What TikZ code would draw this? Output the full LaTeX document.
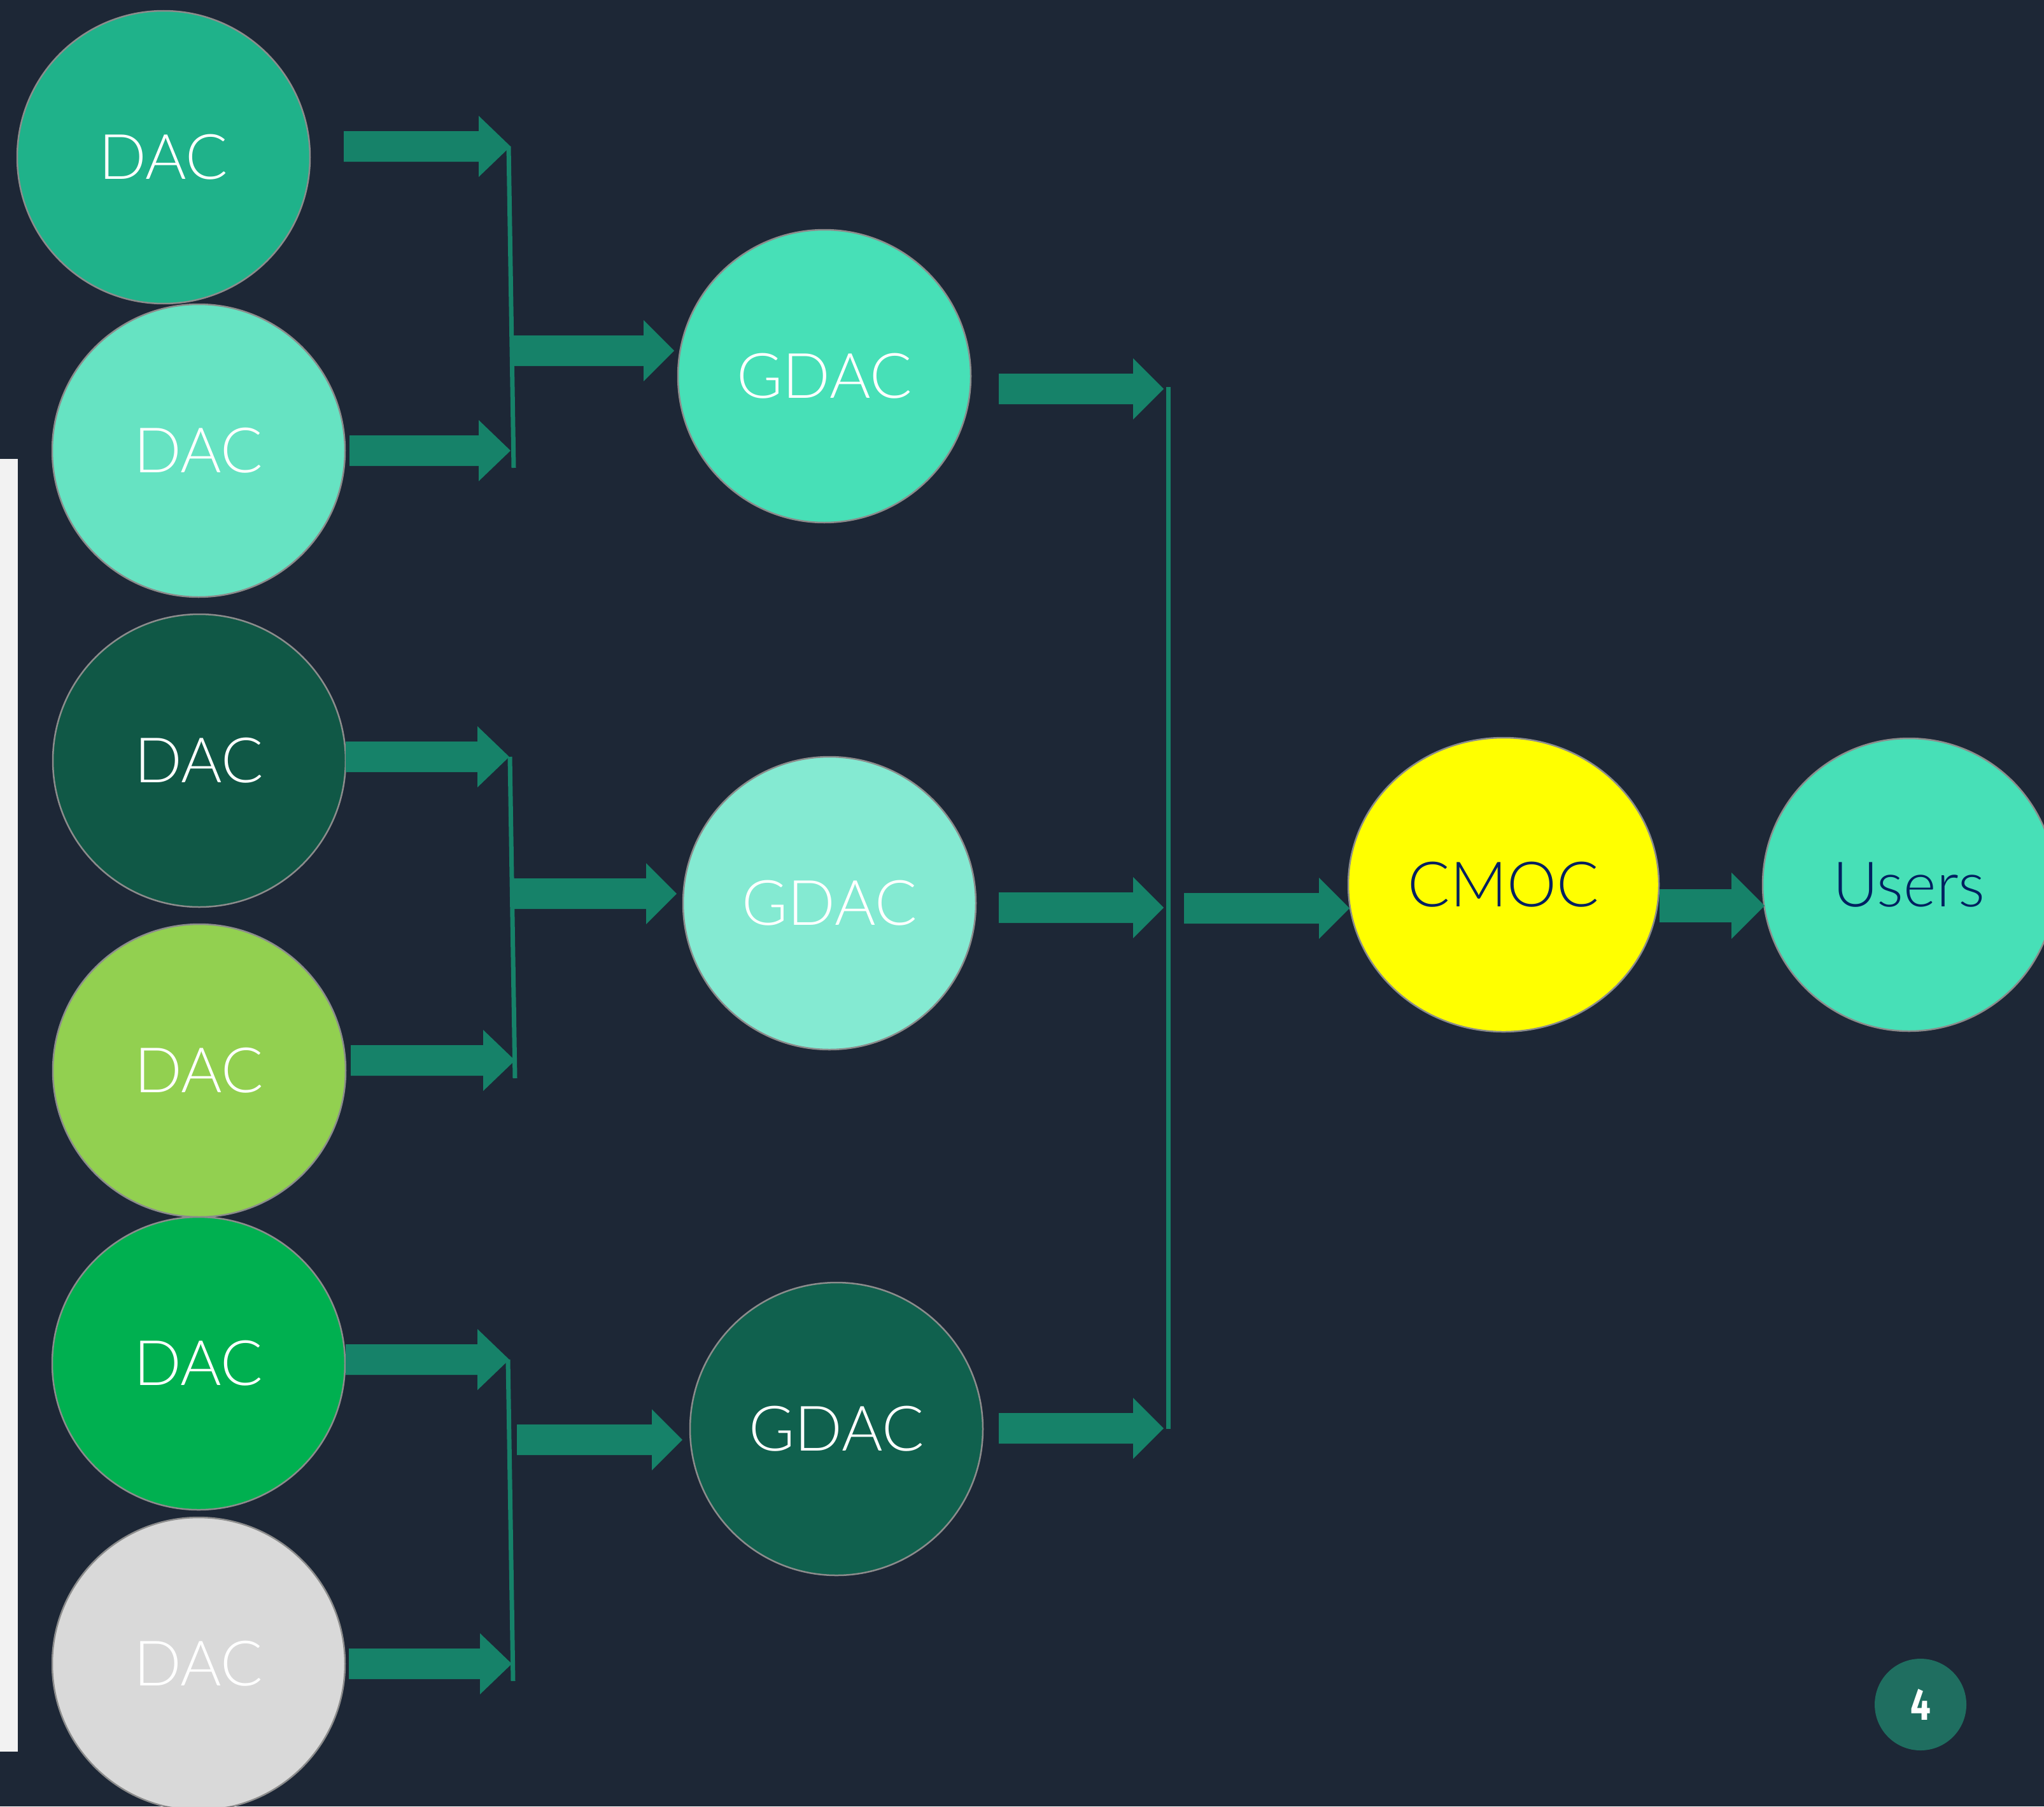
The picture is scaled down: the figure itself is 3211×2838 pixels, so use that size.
\documentclass[tikz,border=0pt]{standalone}
\usepackage{fontspec}
\setmainfont{Lato}[UprightFont=* Light]
\newfontfamily\numfont{Fira Sans}
\usepackage{graphicx}
\usetikzlibrary{calc,shapes.geometric}
\definecolor{bg}{HTML}{1D2736}
\definecolor{barc}{HTML}{F2F2F2}
\definecolor{arrowc}{HTML}{168269}
\definecolor{edgec}{HTML}{8C8C8C}
\definecolor{navy}{HTML}{002060}
\definecolor{badge}{HTML}{1F6E60}
\definecolor{dacA}{HTML}{1FB28A}
\definecolor{dacB}{HTML}{66E3C2}
\definecolor{dacC}{HTML}{105846}
\definecolor{dacD}{HTML}{92D050}
\definecolor{dacE}{HTML}{00B050}
\definecolor{dacF}{HTML}{D9D9D9}
\definecolor{gdacA}{HTML}{47E0B7}
\definecolor{gdacB}{HTML}{84EAD2}
\definecolor{gdacC}{HTML}{10614E}
\definecolor{cmocc}{HTML}{FFFF00}
% start, tip, body half height, head half height, head length
\newcommand\blockarr[5]{%
  \fill[arrowc] ($(#1)+(0,-#3)$) -- ($(#2)+(-#5,-#3)$) -- ($(#2)+(-#5,-#4)$) -- (#2)
    -- ($(#2)+(-#5,#4)$) -- ($(#2)+(-#5,#3)$) -- ($(#1)+(0,#3)$) -- cycle;}
\begin{document}
\begin{tikzpicture}[x=0.1mm,y=-0.1mm,
  circ/.style={circle, draw=edgec, line width=0.25mm, minimum size=46mm, inner sep=0pt,
    font=\fontsize{28}{33}\selectfont, text=white},
  bracket/.style={draw=arrowc, line width=0.7mm}]
\fill[bg] (0,0) rectangle (3211,2838);
\useasboundingbox (0,0) rectangle (3211,2838);
\fill[barc] (0,721) rectangle (28,2752);

% nodes
\node[circ, fill=dacA] (dac1) at (257,247) {DAC};
\node[circ, fill=dacB] (dac2) at (312,708) {DAC};
\node[circ, fill=dacC] (dac3) at (313,1195) {DAC};
\node[circ, fill=dacD] (dac4) at (313,1682) {DAC};
\node[circ, fill=dacE] (dac5) at (312,2142) {DAC};
\node[circ, fill=dacF] (dac6) at (312,2614) {DAC};
\node[circ, fill=gdacA] (gdac1) at (1295,591) {GDAC};
\node[circ, fill=gdacB] (gdac2) at (1303,1419) {GDAC};
\node[circ, fill=gdacC] (gdac3) at (1314,2245) {GDAC};
\node[circ, ellipse, minimum width=48.8mm, minimum height=46.2mm, fill=cmocc, text=navy] (cmoc) at (2362,1390) {CMOC};
\node[circ, fill=gdacA, text=navy] (users) at (2999,1390) {Users};
\node[circle, fill=badge, minimum size=14.4mm, inner sep=0pt, text=white,
  font=\numfont\bfseries\fontsize{20}{24}\selectfont] (page) at (3017,2678) {\scalebox{0.8}[1]{4}};

% coordinates of arrow ends
\coordinate (s1) at (540,230);   \coordinate (t1) at (802,230);
\coordinate (s2) at (549,708);   \coordinate (t2) at (802,708);
\coordinate (b1a) at (799,230);  \coordinate (b1b) at (807,735);
\coordinate (s3) at (807,551);   \coordinate (t3) at (1059,551);

\coordinate (s4) at (543,1189);  \coordinate (t4) at (800,1189);
\coordinate (s5) at (551,1666);  \coordinate (t5) at (809,1666);
\coordinate (b2a) at (801,1189); \coordinate (b2b) at (809,1694);
\coordinate (s6) at (805,1404);  \coordinate (t6) at (1063,1404);

\coordinate (s7) at (543,2136);  \coordinate (t7) at (800,2136);
\coordinate (s8) at (548,2614);  \coordinate (t8) at (804,2614);
\coordinate (b3a) at (798,2136); \coordinate (b3b) at (806,2641);
\coordinate (s9) at (812,2262);  \coordinate (t9) at (1072,2262);

\coordinate (s10) at (1569,611);  \coordinate (t10) at (1828,611);
\coordinate (s11) at (1569,1426); \coordinate (t11) at (1828,1426);
\coordinate (s12) at (1569,2244); \coordinate (t12) at (1828,2244);
\coordinate (b4a) at (1835,608);  \coordinate (b4b) at (1835,2245);
\coordinate (s13) at (1860,1427); \coordinate (t13) at (2120,1427);
\coordinate (s14) at (2607,1423); \coordinate (t14) at (2772,1423);

% block arrows
\blockarr{s1}{t1}{24}{48}{50}
\blockarr{s2}{t2}{24}{48}{50}
\blockarr{s3}{t3}{24}{48}{48}
\blockarr{s4}{t4}{24}{48}{50}
\blockarr{s5}{t5}{24}{48}{50}
\blockarr{s6}{t6}{24}{48}{48}
\blockarr{s7}{t7}{24}{48}{50}
\blockarr{s8}{t8}{24}{48}{50}
\blockarr{s9}{t9}{24}{48}{48}
\blockarr{s10}{t10}{24}{48}{48}
\blockarr{s11}{t11}{24}{48}{48}
\blockarr{s12}{t12}{24}{48}{48}
\blockarr{s13}{t13}{24}{48}{48}
\blockarr{s14}{t14}{26}{52}{52}

% bracket lines
\draw[bracket] (b1a) -- (b1b);
\draw[bracket] (b2a) -- (b2b);
\draw[bracket] (b3a) -- (b3b);
\draw[bracket] (b4a) -- (b4b);
\end{tikzpicture}
\end{document}
